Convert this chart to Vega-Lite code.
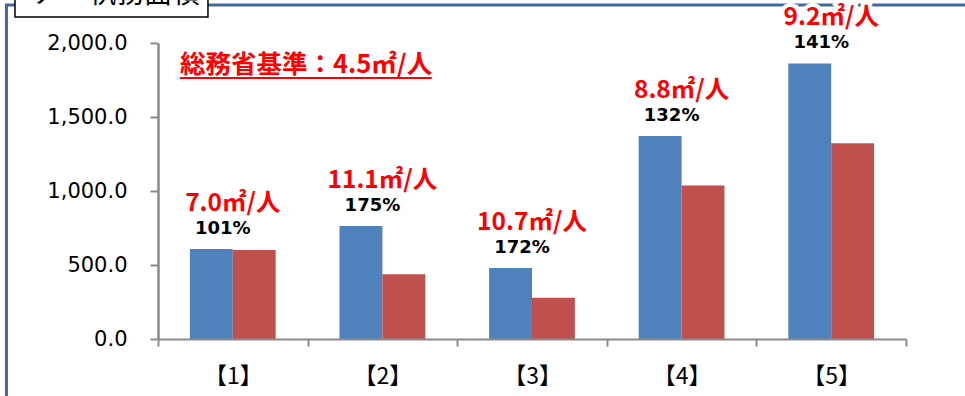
{
  "$schema": "https://vega.github.io/schema/vega-lite/v6.json",
  "autosize": "none",
  "width": 748,
  "height": 296,
  "padding": {"left": 158, "top": 43, "right": 59, "bottom": 57},
  "background": "white",
  "config": {"view": {"stroke": null}},
  "datasets": {
    "bars": [
      {"cat": "【1】", "series": "A", "value": 608},
      {"cat": "【1】", "series": "B", "value": 601},
      {"cat": "【2】", "series": "A", "value": 764},
      {"cat": "【2】", "series": "B", "value": 437},
      {"cat": "【3】", "series": "A", "value": 480},
      {"cat": "【3】", "series": "B", "value": 279},
      {"cat": "【4】", "series": "A", "value": 1372},
      {"cat": "【4】", "series": "B", "value": 1038},
      {"cat": "【5】", "series": "A", "value": 1862},
      {"cat": "【5】", "series": "B", "value": 1322}
    ],
    "labels": [
      {"cat": "【1】", "blue": 608, "pct": "101%", "per": "7.0㎡/人"},
      {"cat": "【2】", "blue": 764, "pct": "175%", "per": "11.1㎡/人"},
      {"cat": "【3】", "blue": 480, "pct": "172%", "per": "10.7㎡/人"},
      {"cat": "【4】", "blue": 1372, "pct": "132%", "per": "8.8㎡/人"},
      {"cat": "【5】", "blue": 1862, "pct": "141%", "per": "9.2㎡/人"}
    ],
    "notes": [
      {"cat": "【1】", "title": "ア　執務面積", "standard": "総務省基準：4.5㎡/人"}
    ]
  },
  "encoding": {
    "x": {
      "field": "cat", "type": "nominal", "sort": null,
      "scale": {"domain": ["【1】", "【2】", "【3】", "【4】", "【5】"], "paddingInner": 0, "paddingOuter": 0},
      "axis": {
        "title": null, "labelAngle": 0, "tickBand": "extent",
        "domainColor": "#8a8a8a", "domainWidth": 2,
        "tickColor": "#8a8a8a", "tickWidth": 2, "tickSize": 7,
        "labelFont": "Noto Sans CJK JP", "labelFontSize": 23, "labelColor": "#000000",
        "labelBaseline": "middle", "labelPadding": 30, "grid": false
      }
    }
  },
  "layer": [
    {
      "data": {"name": "notes"},
      "mark": {"type": "rect", "fill": null, "stroke": "#41699c", "strokeWidth": 3},
      "encoding": {
        "x": {"datum": "【1】", "bandPosition": -1.013},
        "x2": {"datum": "【5】", "bandPosition": 2},
        "y": {"datum": 2257, "type": "quantitative"},
        "y2": {"datum": -700}
      }
    },
    {
      "data": {"name": "notes"},
      "mark": {"type": "rect", "fill": "white", "stroke": "#000000", "strokeWidth": 1.5},
      "encoding": {
        "x": {"datum": "【1】", "bandPosition": -0.956},
        "x2": {"datum": "【1】", "bandPosition": 0.334},
        "y": {"datum": 2500, "type": "quantitative"},
        "y2": {"datum": 2176}
      }
    },
    {
      "data": {"name": "notes"},
      "mark": {"type": "text", "align": "left", "baseline": "middle", "font": "Noto Sans CJK JP", "fontSize": 28, "color": "#000000"},
      "encoding": {
        "x": {"datum": "【1】", "bandPosition": -0.842},
        "y": {"datum": 2321, "type": "quantitative"},
        "text": {"field": "title"}
      }
    },
    {
      "data": {"name": "bars"},
      "mark": {"type": "bar"},
      "encoding": {
        "xOffset": {"field": "series", "type": "nominal", "scale": {"paddingInner": 0, "paddingOuter": 0.744}},
        "y": {
          "field": "value", "type": "quantitative",
          "scale": {"domain": [0, 2000], "nice": false, "zero": true},
          "axis": {
            "title": null, "values": [0, 500, 1000, 1500, 2000], "format": ",.1f",
            "domainColor": "#8a8a8a", "domainWidth": 2.5,
            "tickColor": "#8a8a8a", "tickWidth": 2, "tickSize": 8,
            "gridColor": "#9a9a9a", "gridWidth": 1.5,
            "labelFont": "DejaVu Sans", "labelFontSize": 21, "labelColor": "#000000",
            "labelPadding": 23
          }
        },
        "color": {"field": "series", "type": "nominal", "scale": {"domain": ["A", "B"], "range": ["#4f81bd", "#c0504d"]}, "legend": null}
      }
    },
    {
      "data": {"name": "notes"},
      "mark": {"type": "text", "align": "left", "baseline": "middle", "font": "Noto Sans CJK JP", "fontWeight": "bold", "fontSize": 25.5, "color": "#ff0000"},
      "encoding": {
        "x": {"datum": "【1】", "bandPosition": 0.147},
        "y": {"datum": 1851, "type": "quantitative"},
        "text": {"field": "standard"}
      }
    },
    {
      "data": {"name": "notes"},
      "mark": {"type": "rule", "color": "#ff0000", "strokeWidth": 2},
      "encoding": {
        "x": {"datum": "【1】", "bandPosition": 0.147},
        "x2": {"datum": "【2】", "bandPosition": 0.83},
        "y": {"datum": 1764, "type": "quantitative"}
      }
    },
    {
      "data": {"name": "labels"},
      "mark": {"type": "text", "dx": -10, "dy": -20, "baseline": "middle", "font": "DejaVu Sans", "fontWeight": "bold", "fontSize": 18, "fill": "white", "stroke": "white", "strokeWidth": 9},
      "encoding": {"y": {"field": "blue", "type": "quantitative"}, "text": {"field": "pct"}}
    },
    {
      "data": {"name": "labels"},
      "mark": {"type": "text", "dx": -10, "dy": -20, "baseline": "middle", "font": "DejaVu Sans", "fontWeight": "bold", "fontSize": 18, "color": "#000000"},
      "encoding": {"y": {"field": "blue", "type": "quantitative"}, "text": {"field": "pct"}}
    },
    {
      "data": {"name": "labels"},
      "mark": {"type": "text", "dy": -45, "baseline": "middle", "font": "Noto Sans CJK JP", "fontWeight": "bold", "fontSize": 24.5, "fill": "white", "stroke": "white", "strokeWidth": 8},
      "encoding": {"y": {"field": "blue", "type": "quantitative"}, "text": {"field": "per"}}
    },
    {
      "data": {"name": "labels"},
      "mark": {"type": "text", "dy": -45, "baseline": "middle", "font": "Noto Sans CJK JP", "fontWeight": "bold", "fontSize": 24.5, "color": "#ff0000"},
      "encoding": {"y": {"field": "blue", "type": "quantitative"}, "text": {"field": "per"}}
    }
  ]
}
